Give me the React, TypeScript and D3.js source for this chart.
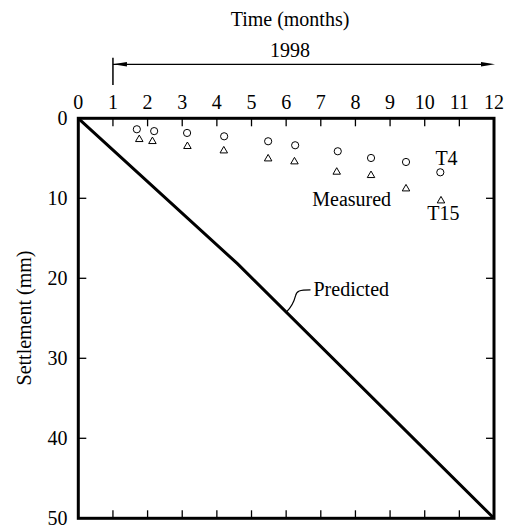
import React from "react";
import * as d3 from "d3";

const monthTicks = [0, 1, 2, 3, 4, 5, 6, 7, 8, 9, 10, 11, 12];
const settleTicks = [0, 10, 20, 30, 40, 50];

// Predicted settlement (month, mm)
const predictedMonths = [0, 4.6, 12];
const predictedSettle = [0, 18.2, 50];

// Measured T4 (circles)
const t4Months = [1.69, 2.19, 3.14, 4.21, 5.48, 6.26, 7.49, 8.45, 9.46, 10.45];
const t4Settle = [1.37, 1.6, 1.83, 2.25, 2.87, 3.37, 4.12, 4.96, 5.46, 6.75];

// Measured T15 (triangles)
const t15Months = [1.76, 2.14, 3.15, 4.2, 5.48, 6.24, 7.46, 8.45, 9.46, 10.47];
const t15Settle = [2.5, 2.75, 3.37, 3.92, 4.92, 5.29, 6.58, 7.0, 8.67, 10.17];

const W = 510;
const H = 529;
const L = 78.3, R = 494, T = 118.3, B = 518.3;
const FONT = "Liberation Serif";
const ts: React.CSSProperties = { fontFamily: FONT, fontSize: "20px" };

export default function App() {
  const x = d3.scaleLinear().domain([0, 12]).range([L, R]);
  const y = d3.scaleLinear().domain([0, 50]).range([T, B]);

  const pred = d3.line<number>()
    .x((_, i) => x(predictedMonths[i]))
    .y((_, i) => y(predictedSettle[i]))(predictedMonths) || "";

  const tri = (cx: number, cy: number) => {
    const s = 7.5;
    const h = s * 0.866;
    return `M${cx},${cy - h / 2}L${cx + s / 2},${cy + h / 2}L${cx - s / 2},${cy + h / 2}Z`;
  };

  // leader for "Predicted"
  const lx = x(6.01), ly = y(24.2);
  const leader = `M${lx},${ly} C${lx + 6},${ly - 6} ${lx + 8},${ly - 12} ${lx + 9},${ly - 16} C${lx + 10},${ly - 21} ${lx + 13},${ly - 22} ${lx + 24},${ly - 22}`;

  const innerTicks = monthTicks.filter((d) => d > 0 && d < 12);
  const innerY = settleTicks.filter((d) => d > 0 && d < 50);
  const tl = 8;

  const arrowY = 64.3;
  const ax0 = x(1), ax1 = x(12) + 1;

  return (
    <svg width={W} height={H} style={{ position: "absolute", left: 0, top: 0 }}>
      <rect width={W} height={H} fill="#fff" />
      {/* top labels */}
      <text x={290} y={26} style={ts} textAnchor="middle">Time (months)</text>
      <text x={290} y={57.3} style={ts} textAnchor="middle">1998</text>
      <line x1={ax0} x2={ax1 - 12} y1={arrowY} y2={arrowY} stroke="#000" strokeWidth={1.2} />
      <path d={`M${ax0},${arrowY} L${ax0 + 14},${arrowY - 2.2} L${ax0 + 14},${arrowY + 2.2}Z`} fill="#000" />
      <path d={`M${ax1},${arrowY} L${ax1 - 14},${arrowY - 2.2} L${ax1 - 14},${arrowY + 2.2}Z`} fill="#000" />
      <line x1={ax0} x2={ax0} y1={57.7} y2={85} stroke="#000" strokeWidth={1.5} />

      {/* month tick labels */}
      {monthTicks.map((d) => (
        <text key={"mt" + d} x={x(d)} y={108.5} style={ts} textAnchor="middle">{d}</text>
      ))}
      {settleTicks.map((d) => (
        <text key={"st" + d} x={67.5} y={y(d) + 7} style={ts} textAnchor="end">{d}</text>
      ))}
      <text transform={`translate(31,318) rotate(-90)`} style={ts} textAnchor="middle">Settlement (mm)</text>

      {/* ticks */}
      {innerTicks.map((d) => (
        <g key={"tk" + d}>
          <line x1={x(d)} x2={x(d)} y1={T} y2={T + tl} stroke="#000" strokeWidth={1.3} />
          <line x1={x(d)} x2={x(d)} y1={B} y2={B - tl} stroke="#000" strokeWidth={1.3} />
        </g>
      ))}
      {innerY.map((d) => (
        <g key={"ty" + d}>
          <line x1={L} x2={L + tl} y1={y(d)} y2={y(d)} stroke="#000" strokeWidth={1.3} />
          <line x1={R} x2={R - tl} y1={y(d)} y2={y(d)} stroke="#000" strokeWidth={1.3} />
        </g>
      ))}

      {/* predicted */}
      <path d={pred} fill="none" stroke="#000" strokeWidth={3} />
      <path d={leader} fill="none" stroke="#000" strokeWidth={1.2} />
      <text x={lx + 27} y={ly - 15.5} style={ts}>Predicted</text>

      {/* measured */}
      {t4Months.map((m, i) => (
        <circle key={"c" + i} cx={x(m)} cy={y(t4Settle[i])} r={3.6} fill="none" stroke="#000" strokeWidth={1} />
      ))}
      {t15Months.map((m, i) => (
        <path key={"t" + i} d={tri(x(m), y(t15Settle[i]))} fill="none" stroke="#000" strokeWidth={1} />
      ))}
      <text x={446.5} y={165} style={ts} textAnchor="middle">T4</text>
      <text x={443.3} y={220} style={ts} textAnchor="middle">T15</text>
      <text x={351.7} y={205.7} style={ts} textAnchor="middle">Measured</text>

      {/* frame */}
      <rect x={L} y={T} width={R - L} height={B - T} fill="none" stroke="#000" strokeWidth={3} />
    </svg>
  );
}
